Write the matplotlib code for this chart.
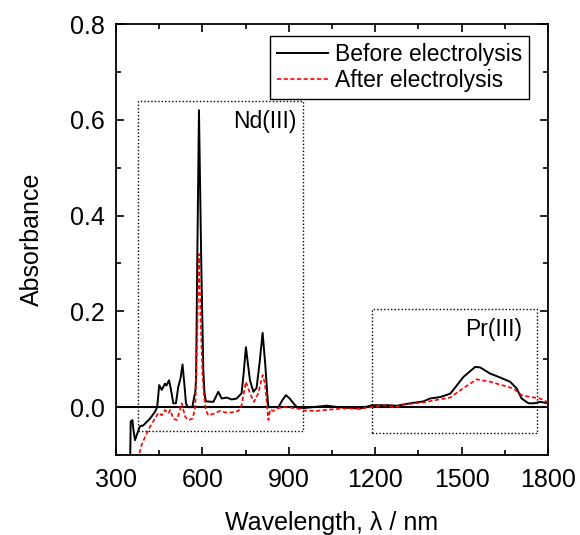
import matplotlib
matplotlib.use('Agg')
import matplotlib.pyplot as plt
from matplotlib.patches import Rectangle
from matplotlib.ticker import MultipleLocator

plt.rcParams['font.family'] = ['Liberation Sans', 'DejaVu Sans']

# Spectrum before electrolysis
wl_before = [349, 351, 357, 360, 366, 374, 383, 395, 418, 435, 443, 450, 459, 470,
             475, 484, 490, 499, 508, 516, 524, 531, 537, 543, 549, 565, 571, 575,
             578, 582, 588, 596, 603, 607, 612, 638, 655, 667, 684, 702, 719, 736,
             743, 751, 758, 765, 777, 788, 798, 809, 818, 826, 829, 846, 864, 878,
             890, 903, 916, 928, 950, 985, 1032, 1070, 1147, 1188, 1240, 1275, 1321,
             1367, 1390, 1425, 1460, 1471, 1506, 1547, 1564, 1599, 1633, 1668, 1691,
             1708, 1732, 1752, 1772, 1800]
abs_before = [-0.12, -0.03, -0.027, -0.045, -0.069, -0.055, -0.040, -0.038, -0.024,
              -0.010, 0.0, 0.046, 0.036, 0.049, 0.045, 0.056, 0.039, 0.008, 0.008,
              0.042, 0.06, 0.089, 0.05, 0.008, 0.0, 0.0, 0.02, 0.03, 0.06, 0.30, 0.62,
              0.30, 0.08, 0.03, 0.012, 0.011, 0.032, 0.018, 0.020, 0.016, 0.018,
              0.029, 0.07, 0.125, 0.09, 0.056, 0.032, 0.04, 0.09, 0.155, 0.09, 0.02,
              0.0, 0.0, 0.0, 0.015, 0.025, 0.018, 0.008, 0.0, -0.002, 0.0, 0.003, 0.0,
              -0.003, 0.004, 0.004, 0.003, 0.008, 0.012, 0.018, 0.021, 0.028, 0.036,
              0.063, 0.084, 0.083, 0.070, 0.062, 0.053, 0.039, 0.018, 0.008, 0.008,
              0.011, 0.008]

# Spectrum after electrolysis
wl_after = [378, 381, 389, 401, 418, 435, 447, 459, 470, 482, 488, 499, 511, 520,
            528, 540, 551, 566, 575, 577, 582, 588, 594, 600, 606, 612, 620, 638,
            661, 678, 702, 725, 736, 744, 751, 765, 779, 794, 809, 817, 829, 835,
            846, 864, 892, 915, 939, 950, 996, 1043, 1089, 1147, 1188, 1228, 1263,
            1310, 1367, 1413, 1460, 1471, 1512, 1552, 1599, 1633, 1680, 1708, 1732,
            1772, 1800]
abs_after = [-0.11, -0.097, -0.079, -0.062, -0.041, -0.024, -0.012, -0.017, -0.006,
             -0.013, -0.006, -0.024, -0.027, -0.01, 0.008, -0.020, -0.027, -0.024,
             0.0, 0.03, 0.15, 0.32, 0.18, 0.07, 0.02, -0.006, -0.017, -0.014,
             -0.008, -0.011, -0.011, -0.008, 0.004, 0.03, 0.053, 0.029, 0.011,
             0.029, 0.067, 0.049, -0.027, -0.005, -0.008, -0.002, 0.001, -0.002,
             -0.004, -0.007, -0.008, -0.005, -0.003, -0.003, 0.0, 0.004, 0.0, 0.006,
             0.010, 0.015, 0.020, 0.025, 0.042, 0.058, 0.053, 0.047, 0.039, 0.025,
             0.022, 0.018, 0.010]

# dotted boxes marking the two ions: (x0, y0, x1, y1)
nd_box = (375, -0.05, 950, 0.64)
pr_box = (1190, -0.055, 1760, 0.205)

fig = plt.figure(figsize=(5.8, 5.35), dpi=100)
ax = fig.add_axes([0.2, 0.1495, 0.745, 0.8056])

ax.axhline(0, color='black', lw=1.5, zorder=1)
ax.plot(wl_before, abs_before, color='black', lw=1.4, label='Before electrolysis', zorder=3)
ax.plot(wl_after, abs_after, color='red', lw=1.2, linestyle=(0, (2.5, 1.5)),
        label='After electrolysis', zorder=4)

for (x0, y0, x1, y1) in (nd_box, pr_box):
    ax.add_patch(Rectangle((x0, y0), x1 - x0, y1 - y0, fill=False,
                           edgecolor='black', lw=1.0, linestyle=(0, (1, 1.5)), zorder=2))

ax.text(816, 0.596, 'Nd(III)', fontsize=16.5, ha='center', va='center')
ax.text(1611, 0.163, 'Pr(III)', fontsize=16.5, ha='center', va='center')

ax.set_xlim(300, 1800)
ax.set_ylim(-0.1, 0.8)
ax.xaxis.set_major_locator(MultipleLocator(300))
ax.xaxis.set_minor_locator(MultipleLocator(150))
ax.yaxis.set_major_locator(MultipleLocator(0.2))
ax.yaxis.set_minor_locator(MultipleLocator(0.1))
ax.tick_params(which='both', direction='in', top=True, right=True, width=1.2)
ax.tick_params(which='major', length=6, labelsize=18)
ax.tick_params(which='minor', length=3.5)
ax.tick_params(axis='x', pad=9)
ax.tick_params(axis='y', pad=8)
for s in ax.spines.values():
    s.set_linewidth(1.3)

ax.set_xlabel('Wavelength, λ / nm', fontsize=18, labelpad=14)
ax.set_ylabel('Absorbance', fontsize=18, labelpad=19)

leg = ax.legend(loc='upper right', bbox_to_anchor=(0.955, 0.972), borderaxespad=0,
                fontsize=16.5, fancybox=False, edgecolor='black', framealpha=1,
                handlelength=2.2, handletextpad=0.3, labelspacing=0.15,
                borderpad=0.3)
leg.get_frame().set_linewidth(1.0)

fig.savefig('out.png', dpi=100)
